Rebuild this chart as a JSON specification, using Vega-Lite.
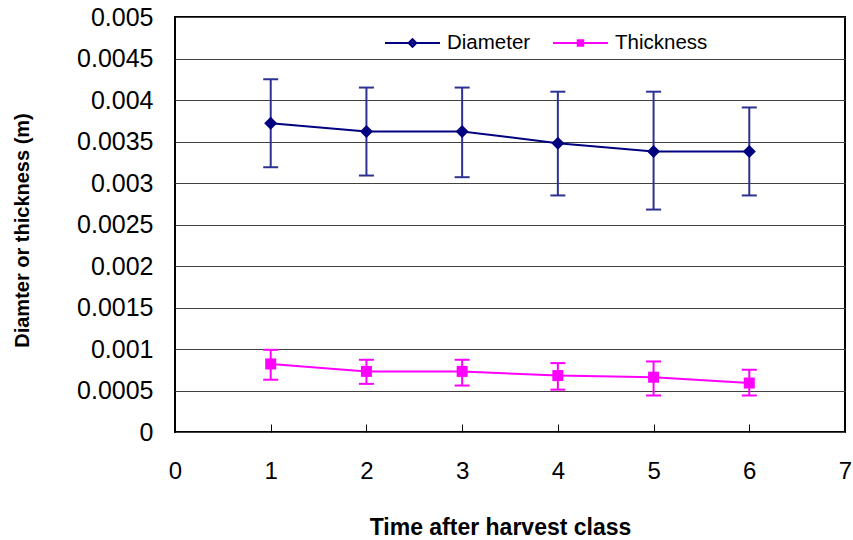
{
  "$schema": "https://vega.github.io/schema/vega-lite/v6.json",
  "width": 670,
  "height": 415,
  "autosize": {"type": "none"},
  "padding": {"left": 175, "top": 17, "right": 8, "bottom": 108},
  "background": "#ffffff",
  "config": {
    "font": "Liberation Sans",
    "view": {"stroke": "#000000", "strokeWidth": 2},
    "axis": {"labelFont": "Liberation Sans", "titleFont": "Liberation Sans", "labelColor": "#000000", "titleColor": "#000000"}
  },
  "data": {
    "values": [
      {"cls": 1, "series": "Diameter", "value": 0.00372, "lo": 0.00319, "hi": 0.00425},
      {"cls": 2, "series": "Diameter", "value": 0.00362, "lo": 0.00309, "hi": 0.00415},
      {"cls": 3, "series": "Diameter", "value": 0.00362, "lo": 0.00307, "hi": 0.00415},
      {"cls": 4, "series": "Diameter", "value": 0.00348, "lo": 0.00285, "hi": 0.00410},
      {"cls": 5, "series": "Diameter", "value": 0.00338, "lo": 0.00268, "hi": 0.00410},
      {"cls": 6, "series": "Diameter", "value": 0.00338, "lo": 0.00285, "hi": 0.00391},
      {"cls": 1, "series": "Thickness", "value": 0.00082, "lo": 0.00063, "hi": 0.00099},
      {"cls": 2, "series": "Thickness", "value": 0.00073, "lo": 0.00058, "hi": 0.00087},
      {"cls": 3, "series": "Thickness", "value": 0.00073, "lo": 0.00056, "hi": 0.00087},
      {"cls": 4, "series": "Thickness", "value": 0.00068, "lo": 0.00051, "hi": 0.00083},
      {"cls": 5, "series": "Thickness", "value": 0.00066, "lo": 0.00044, "hi": 0.00085},
      {"cls": 6, "series": "Thickness", "value": 0.00059, "lo": 0.00044, "hi": 0.00075}
    ]
  },
  "encoding": {
    "x": {
      "field": "cls", "type": "quantitative",
      "scale": {"domain": [0, 7], "nice": false, "zero": false},
      "axis": {
        "title": "Time after harvest class",
        "values": [0, 1, 2, 3, 4, 5, 6, 7],
        "grid": false, "domain": false,
        "ticks": true, "tickSize": -8, "tickColor": "#000000", "tickWidth": 1,
        "labelFontSize": 24, "labelPadding": 54, "labelBaseline": "alphabetic",
        "labelFlush": false,
        "titleFontSize": 23, "titleFontWeight": "bold",
        "titleX": 325, "titleY": 95, "titleBaseline": "middle", "titleAlign": "center"
      }
    },
    "y": {
      "field": "value", "type": "quantitative",
      "scale": {"domain": [0, 0.005], "nice": false},
      "axis": {
        "title": "Diamter or thickness (m)",
        "values": [0, 0.0005, 0.001, 0.0015, 0.002, 0.0025, 0.003, 0.0035, 0.004, 0.0045, 0.005],
        "format": "~g",
        "grid": true, "gridColor": "#404040", "gridWidth": 1, "gridOpacity": 1,
        "domain": false, "ticks": false,
        "labelFontSize": 25, "labelPadding": 22, "labelBaseline": "middle",
        "labelFlush": false,
        "titleFontSize": 20, "titleFontWeight": "bold", "titleAngle": -90,
        "titleX": -153, "titleY": 213, "titleBaseline": "middle", "titleAlign": "center"
      }
    }
  },
  "layer": [
    {
      "mark": {"type": "line", "strokeWidth": 2},
      "encoding": {
        "color": {
          "field": "series", "type": "nominal",
          "scale": {"domain": ["Diameter", "Thickness"], "range": ["#000080", "#FF00FF"]},
          "legend": {
            "title": null, "orient": "none", "direction": "horizontal",
            "legendX": 209, "legendY": -2.5, "padding": 0,
            "symbolSize": 3025, "symbolStrokeWidth": 2, "symbolType": "M-1,0H1",
            "labelOffset": 6, "columnPadding": 18,
            "labelFont": "Liberation Sans", "labelFontSize": 20.5, "labelColor": "#000000",
            "labelLimit": 300,
            "encode": {
              "symbols": {
                "update": {
                  "shape": {"signal": "datum.value == 'Diameter' ? 'M-1,0H1M-0.14,0L0,-0.14L0.14,0L0,0.14Z' : 'M-1,0H1M-0.1,-0.1H0.1V0.1H-0.1Z'"},
                  "stroke": {"signal": "datum.value == 'Diameter' ? '#000080' : '#FF00FF'"},
                  "fill": {"signal": "datum.value == 'Diameter' ? '#000080' : '#FF00FF'"},
                  "strokeWidth": {"value": 2},
                  "opacity": {"value": 1}
                }
              }
            }
          }
        }
      }
    },
    {
      "mark": {"type": "rule", "strokeWidth": 2},
      "encoding": {
        "y": {"field": "lo", "type": "quantitative"},
        "y2": {"field": "hi"},
        "stroke": {"field": "series", "type": "nominal", "scale": {"domain": ["Diameter", "Thickness"], "range": ["#2E3192", "#FF00FF"]}, "legend": null}
      }
    },
    {
      "mark": {"type": "tick", "orient": "horizontal", "size": 15, "thickness": 2, "opacity": 1},
      "encoding": {
        "y": {"field": "lo", "type": "quantitative"},
        "fill": {"field": "series", "type": "nominal", "scale": {"domain": ["Diameter", "Thickness"], "range": ["#2E3192", "#FF00FF"]}, "legend": null}
      }
    },
    {
      "mark": {"type": "tick", "orient": "horizontal", "size": 15, "thickness": 2, "opacity": 1},
      "encoding": {
        "y": {"field": "hi", "type": "quantitative"},
        "fill": {"field": "series", "type": "nominal", "scale": {"domain": ["Diameter", "Thickness"], "range": ["#2E3192", "#FF00FF"]}, "legend": null}
      }
    },
    {
      "transform": [{"filter": "datum.series == 'Diameter'"}],
      "mark": {"type": "point", "filled": true, "opacity": 1, "shape": "diamond", "size": 169, "color": "#000080"},
      "encoding": {}
    },
    {
      "transform": [{"filter": "datum.series == 'Thickness'"}],
      "mark": {"type": "point", "filled": true, "opacity": 1, "shape": "square", "size": 121, "color": "#FF00FF"},
      "encoding": {}
    }
  ]
}
